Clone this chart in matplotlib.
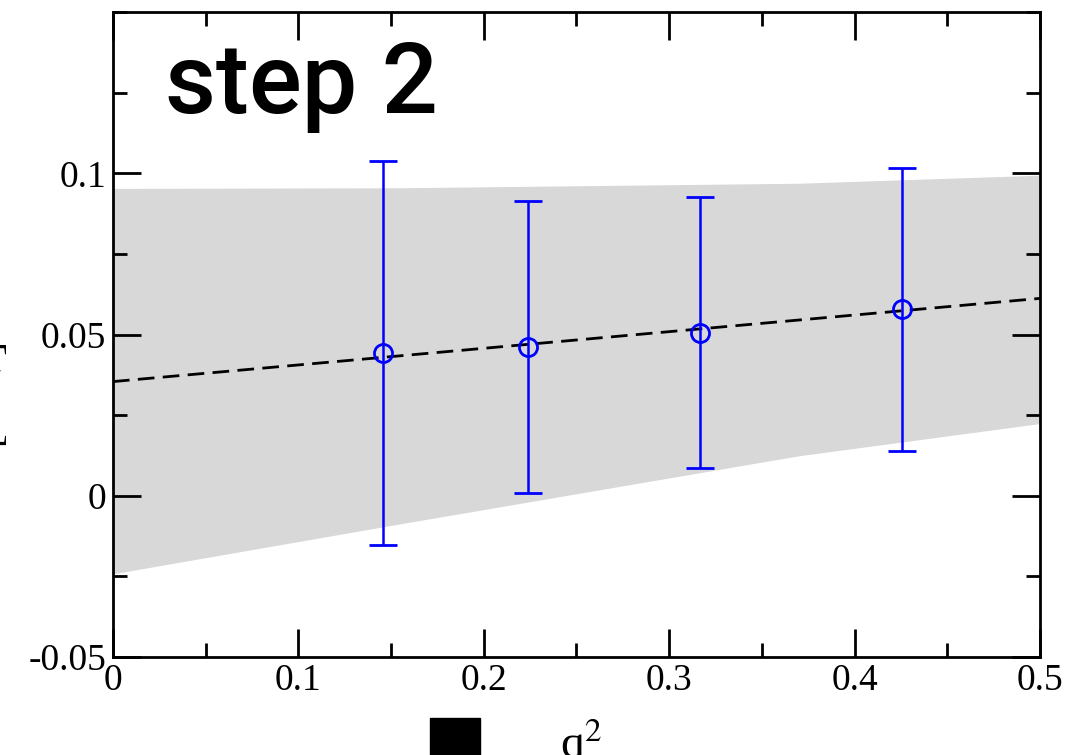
import matplotlib.pyplot as plt
from matplotlib.patches import Rectangle
from matplotlib.ticker import MultipleLocator

# data
q2 = [0.1456, 0.2238, 0.3166, 0.4256]
val = [0.0444, 0.0460, 0.0506, 0.0578]
err_hi = [0.1037, 0.0913, 0.0925, 0.1016]
err_lo = [-0.0152, 0.0009, 0.0087, 0.0140]

fit_q = [0.0, 0.5]
fit_val = [0.0354, 0.0612]

band_q = [0.0, 0.155, 0.37, 0.5]
band_lo = [-0.0242, -0.0087, 0.0124, 0.0224]
band_hi = [0.0953, 0.0955, 0.0969, 0.0994]

xticks = [0, 0.1, 0.2, 0.3, 0.4, 0.5]
xticklabels = ["0", "0.1", "0.2", "0.3", "0.4", "0.5"]
yticks = [-0.05, 0, 0.05, 0.1]
yticklabels = ["-0.05", "0", "0.05", "0.1"]

serif = "Liberation Serif"

fig = plt.figure(figsize=(10.85, 7.55), dpi=100)
ax = fig.add_axes([0.1041, 0.1298, 0.8544, 0.8543])

# error band and fit
ax.fill_between(band_q, band_lo, band_hi, color="#d8d8d8", linewidth=0, zorder=1)
ax.plot(fit_q, fit_val, color="black", linestyle=(0, (6, 3)), linewidth=2, zorder=2)

# data points
yerr = [[v - lo for v, lo in zip(val, err_lo)], [hi - v for v, hi in zip(val, err_hi)]]
ax.errorbar(q2, val, yerr=yerr, fmt="o", color="blue", mfc="none", mec="blue",
            ms=13, mew=2, elinewidth=1.8, capsize=10, capthick=2, zorder=3)

ax.set_xlim(0, 0.5)
ax.set_ylim(-0.05, 0.15)
ax.set_xticks(xticks)
ax.set_xticklabels(xticklabels, fontfamily=serif, fontsize=27)
ax.set_yticks(yticks)
ax.set_yticklabels(yticklabels, fontfamily=serif, fontsize=27)
ax.xaxis.set_minor_locator(MultipleLocator(0.05))
ax.yaxis.set_minor_locator(MultipleLocator(0.025))
ax.tick_params(which="both", direction="in", top=True, right=True, width=2)
ax.tick_params(which="major", length=20, pad=5)
ax.tick_params(which="minor", length=10)
for s in ax.spines.values():
    s.set_linewidth(2)

ax.text(0.056, 0.843, "step 2", transform=ax.transAxes, fontsize=71,
        fontfamily="Roboto", fontweight="medium", va="baseline", ha="left")

# x label with black square
fig.patches.append(Rectangle((430 / 1085, 0), 50 / 1085, 37 / 755,
                             transform=fig.transFigure, color="black"))
fig.text(560 / 1085, 12 / 755, "q$^2$", fontfamily=serif, fontsize=34,
         ha="left", va="center", math_fontfamily="stix")

# y label, clipped by the figure edge
fig.text(-9 / 1085, 330 / 755, "ΔE [GeV]", rotation=90, fontfamily=serif,
         fontsize=30, ha="center", va="center")

fig.savefig("out.png", dpi=100)
